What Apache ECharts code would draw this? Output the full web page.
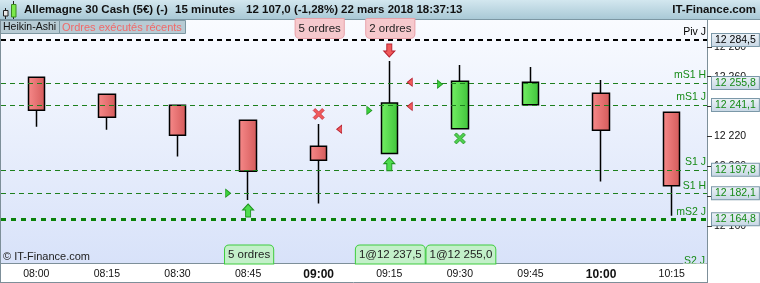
<!DOCTYPE html>
<html><head><meta charset="utf-8">
<script src="https://cdn.jsdelivr.net/npm/echarts@6/dist/echarts.min.js"></script>
<style>html,body{margin:0;padding:0;background:#fff}#c{width:760px;height:283px}</style>
</head><body><div id="c"></div>
<script>
// ---- data ----
const categories = ['08:00','08:15','08:30','08:45','09:00','09:15','09:30','09:45','10:00','10:15'];
const boldLabels = ['09:00','10:00'];
const opens  = [12259.6,12248.3,12240.9,12230.9,12213.5,12208.6,12225.3,12241.3,12248.9,12236.2];
const closes = [12237.6,12232.9,12220.9,12196.8,12204.1,12242.4,12256.9,12256.3,12224.2,12187.2];
const lows   = [12226.6,12224.6,12206.6,12177.6,12175.2,12208.6,12225.3,12241.3,12189.9,12167.1];
const highs  = [12259.6,12248.3,12240.9,12230.9,12228.4,12270.5,12267.8,12266.5,12257.8,12236.2];
const yTicks = [12160,12180,12200,12220,12240,12260,12280];
const levelNames  = ['Piv J','mS1 H','mS1 J','S1 J','S1 H','mS2 J'];
const levelValues = [12284.5,12255.8,12241.1,12197.8,12182.1,12164.8];
const buyFills  = [['08:45',12182.1],['09:15',12237.5],['09:30',12255.0]];
const sellFills = [['09:00',12224.9],['09:15',12256.3],['09:15',12240.2]];
const buyArrows  = ['08:45','09:15'];
const sellArrows = ['09:15'];
const sellCrosses = ['09:00'];
const buyCrosses  = ['09:30'];
const topNotes    = [['09:00','5 ordres'],['09:15','2 ordres']];
const bottomNotes = [['08:45','5 ordres'],['09:15','1@12 237,5'],['09:30','1@12 255,0']];
const headerParts = ['Allemagne 30 Cash (5€) (-)','15 minutes','12 107,0 (-1,28%)','22 mars 2018 18:37:13'];

// ---- helpers ----
const FONT = 'Liberation Sans, Arial, sans-serif';
const idx = c => categories.indexOf(c);
const fmtNum = (v,d) => { const s = v.toFixed(d).split('.'); const a = s[0].replace(/\B(?=(\d{3})+(?!\d))/g,' '); return s.length>1 ? a+','+s[1] : a; };
const lg = (c1,c2,h) => ({type:'linear',x:0,y:0,x2:h?1:0,y2:h?0:1,colorStops:[{offset:0,color:c1},{offset:1,color:c2}]});
const GREEN = '#168a16';
const lvlLine = i => i===0 ? {color:'#000',width:2,type:[5,4]} : (i===5 ? {color:'#0b820b',width:3,type:[5,5]} : {color:'#1d7f1d',width:1,type:[5,4]});

const mlData = [];
levelValues.forEach((v,i)=>{
  mlData.push({yAxis:v, lineStyle:lvlLine(i), label:{show:true, position:'insideEndTop', formatter:levelNames[i], color:i===0?'#000':GREEN, fontSize:10.5, fontFamily:FONT, distance:[1,2]}});
  mlData.push({yAxis:v, lineStyle:{width:0,color:'rgba(0,0,0,0)'}, label:{show:true, position:'end', distance:5, formatter:fmtNum(v,1), color:i===0?'#000':GREEN, fontSize:10.5, fontFamily:FONT, backgroundColor:lg('#eef3f8','#c6d6e4'), borderColor:'#7b98a8', borderWidth:1, padding:[1,3,0,3]}});
});

const upArrow = 'path://M5.5,0 L11,6 L8,6 L8,13 L3,13 L3,6 L0,6 Z';
const downArrow = 'path://M3,0 L8,0 L8,7 L11,7 L5.5,13 L0,7 L3,7 Z';
const cross = 'path://M2,0 L5.5,3.5 L9,0 L11,2 L7.5,5.5 L11,9 L9,11 L5.5,7.5 L2,11 L0,9 L3.5,5.5 L0,2 Z';
const triR = 'path://M0,0 L6,4.5 L0,9 Z';
const triL = 'path://M6,0 L0,4.5 L6,9 Z';

const chart = echarts.init(document.getElementById('c'), null, {renderer:'canvas'});

const baseGraphic = [
  {id:'hdr', type:'rect', z:100, shape:{x:0,y:0,width:760,height:19}, style:{fill:lg('#d3e7ef','#a9c9d6')}},
  {id:'hdrl', type:'line', z:101, shape:{x1:0,y1:19.5,x2:760,y2:19.5}, style:{stroke:'#7c97a3',lineWidth:1}},
  {id:'ic1w', type:'line', z:101, shape:{x1:5.5,y1:8,x2:5.5,y2:19}, style:{stroke:'#222',lineWidth:1}},
  {id:'ic1', type:'rect', z:102, shape:{x:3.5,y:10.5,width:4.5,height:5.5}, style:{fill:'#e8e8e8',stroke:'#222',lineWidth:1}},
  {id:'ic2w', type:'line', z:101, shape:{x1:13.5,y1:1,x2:13.5,y2:19}, style:{stroke:'#222',lineWidth:1}},
  {id:'ic2', type:'rect', z:102, shape:{x:11.5,y:4.5,width:4.5,height:12.5}, style:{fill:'#7be84a',stroke:'#3a8a20',lineWidth:1}},
  {id:'h0', type:'text', z:102, style:{text:headerParts[0], x:24, y:10, verticalAlign:'middle', font:'bold 11.5px '+FONT, fill:'#111'}},
  {id:'h1', type:'text', z:102, style:{text:headerParts[1], x:175, y:10, verticalAlign:'middle', font:'bold 11.5px '+FONT, fill:'#111'}},
  {id:'h2', type:'text', z:102, style:{text:headerParts[2], x:246, y:10, verticalAlign:'middle', font:'bold 11.5px '+FONT, fill:'#111'}},
  {id:'h3', type:'text', z:102, style:{text:headerParts[3], x:341, y:10, verticalAlign:'middle', font:'bold 11.5px '+FONT, fill:'#111'}},
  {id:'h4', type:'text', z:102, style:{text:'IT-Finance.com', x:756, y:10, align:'right', verticalAlign:'middle', font:'bold 11.5px '+FONT, fill:'#111'}},
  {id:'b1', type:'rect', z:100, shape:{x:0.5,y:20.5,width:59,height:13}, style:{fill:'#b7cbd4',stroke:'#7d97a2',lineWidth:1}},
  {id:'b2', type:'rect', z:100, shape:{x:59.5,y:20.5,width:126,height:13}, style:{fill:'#b7cbd4',stroke:'#7d97a2',lineWidth:1}},
  {id:'t1', type:'text', z:101, style:{text:'Heikin-Ashi', x:3, y:27.5, verticalAlign:'middle', font:'10.5px '+FONT, fill:'#111'}},
  {id:'t2', type:'text', z:101, style:{text:'Ordres exécutés récents', x:62, y:27.5, verticalAlign:'middle', font:'11px '+FONT, fill:'#f06a6a'}},
  {id:'cp', type:'text', z:101, style:{text:'© IT-Finance.com', x:3, y:257, verticalAlign:'middle', font:'11px '+FONT, fill:'#222'}},
  {id:'s2', type:'text', z:101, style:{text:'S2 J', x:705, y:255.5, align:'right', verticalAlign:'top', font:'10.5px '+FONT, fill:GREEN}},
  {id:'s2c', type:'rect', z:102, shape:{x:683,y:263.5,width:23.5,height:5}, style:{fill:'#fff'}},
  {id:'bl', type:'line', z:103, shape:{x1:0.5,y1:19,x2:0.5,y2:283}, style:{stroke:'#7d8f99',lineWidth:1}},
  {id:'bb', type:'line', z:103, shape:{x1:0,y1:282.5,x2:707,y2:282.5}, style:{stroke:'#7d8f99',lineWidth:1}},
  {id:'br', type:'line', z:103, shape:{x1:707.5,y1:263,x2:707.5,y2:283}, style:{stroke:'#7d8f99',lineWidth:1}}
];

const option = {
  animation:false,
  textStyle:{fontFamily:FONT},
  grid:{left:1,right:53,top:20,bottom:20,show:true,borderWidth:0,backgroundColor:lg('#f9fbff','#d8e2f9')},
  xAxis:{type:'category', data:categories, boundaryGap:true,
    axisLine:{lineStyle:{color:'#7d8f99'}},
    axisTick:{alignWithLabel:true, length:4, lineStyle:{color:'#9aa'}},
    axisLabel:{color:'#111', fontSize:10.5, margin:6, fontFamily:FONT,
      formatter:v => boldLabels.includes(v) ? '{b|'+v+'}' : v,
      rich:{b:{fontWeight:'bold', fontSize:12, color:'#111', fontFamily:FONT}}}},
  yAxis:{type:'value', position:'right', min:12135.5, max:12297.9,
    axisLine:{show:true, lineStyle:{color:'#7d8f99'}},
    axisTick:{show:true, customValues:yTicks, length:5, lineStyle:{color:'#333'}},
    axisLabel:{customValues:yTicks, formatter:v=>fmtNum(v,0), color:'#111', fontSize:10.5, margin:7, fontFamily:FONT},
    splitLine:{show:false}},
  series:[
    {type:'candlestick', data:categories.map((c,i)=>[opens[i],closes[i],lows[i],highs[i]]), barWidth:17,
      itemStyle:{color:lg('#74f064','#3fc23b',true), color0:lg('#f78a8a','#d45a5a',true), borderColor:'#000', borderColor0:'#000', borderWidth:1.5},
      markLine:{silent:true, symbol:['none','none'], animation:false, data:mlData}, z:3},
    {type:'scatter', data:buyArrows.map(c=>[c,lows[idx(c)]]), symbol:upArrow, symbolSize:[11,13], symbolOffset:[0,10.5],
      itemStyle:{color:'#4fdc4f', borderColor:'#1f961f', borderWidth:1, opacity:1}, z:5},
    {type:'scatter', data:sellArrows.map(c=>[c,highs[idx(c)]]), symbol:downArrow, symbolSize:[11,13], symbolOffset:[0,-10.5],
      itemStyle:{color:'#f05a5a', borderColor:'#b82030', borderWidth:1, opacity:1}, z:5},
    {type:'scatter', data:sellCrosses.map(c=>[c,highs[idx(c)]]), symbol:cross, symbolSize:[11,11], symbolOffset:[0,-10],
      itemStyle:{color:'#f05a5a', borderColor:'#c83040', borderWidth:0.8, opacity:1}, z:5},
    {type:'scatter', data:buyCrosses.map(c=>[c,lows[idx(c)]]), symbol:cross, symbolSize:[11,11], symbolOffset:[0,9.8],
      itemStyle:{color:'#4fd04f', borderColor:'#1f961f', borderWidth:0.8, opacity:1}, z:5},
    {type:'scatter', data:buyFills, symbol:triR, symbolSize:[5,8], symbolOffset:[-20,0],
      itemStyle:{color:'#3cd23c', borderColor:'#1f961f', borderWidth:0.8, opacity:1}, z:5},
    {type:'scatter', data:sellFills, symbol:triL, symbolSize:[5,8], symbolOffset:[20.5,0],
      itemStyle:{color:'#f05a5a', borderColor:'#b82030', borderWidth:0.8, opacity:1}, z:5}
  ],
  graphic:baseGraphic
};
chart.setOption(option);

// annotation notes anchored to category positions
const notes = [];
topNotes.forEach((n,i)=>{
  const x = chart.convertToPixel({xAxisIndex:0}, idx(n[0]));
  notes.push({id:'tn'+i, type:'text', z:104, style:{text:n[1], x:x+1, y:28.5, align:'center', verticalAlign:'middle', font:'11.5px '+FONT, fill:'#222',
    backgroundColor:'#f6c9cd', borderColor:'#e8a2aa', borderWidth:1, borderRadius:[0,0,4,4], padding:[4,3,3,3]}});
});
bottomNotes.forEach((n,i)=>{
  const x = chart.convertToPixel({xAxisIndex:0}, idx(n[0]));
  notes.push({id:'bn'+i, type:'text', z:104, style:{text:n[1], x:x+1, y:254.5, align:'center', verticalAlign:'middle', font:'11.5px '+FONT, fill:'#222',
    backgroundColor:'#c3f0c9', borderColor:'#3fcc3f', borderWidth:1, borderRadius:[4,4,0,0], padding:[3,3,3,3]}});
});
chart.setOption({graphic: baseGraphic.concat(notes)});
</script>
</body></html>
